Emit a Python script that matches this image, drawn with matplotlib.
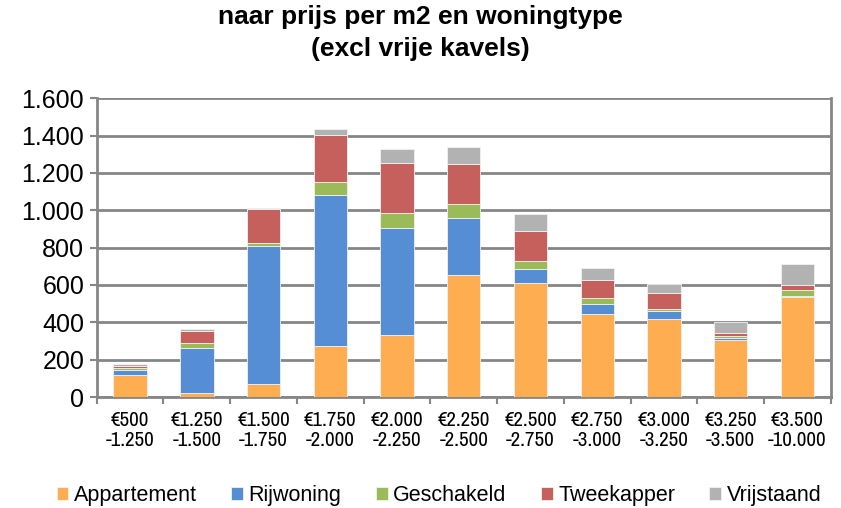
import matplotlib.pyplot as plt
from matplotlib import font_manager
import numpy as np

categories = ['€500\n-1.250', '€1.250\n-1.500', '€1.500\n-1.750', '€1.750\n-2.000',
              '€2.000\n-2.250', '€2.250\n-2.500', '€2.500\n-2.750', '€2.750\n-3.000',
              '€3.000\n-3.250', '€3.250\n-3.500', '€3.500\n-10.000']
appartement = [117, 23, 68, 273, 333, 654, 611, 445, 416, 303, 534]
rijwoning = [30, 242, 739, 810, 572, 305, 74, 55, 45, 11, 9]
geschakeld = [9, 25, 16, 68, 79, 77, 46, 31, 12, 12, 32]
tweekapper = [11, 63, 183, 253, 271, 210, 158, 97, 86, 18, 24]
vrijstaand = [9, 9, 4, 32, 75, 92, 90, 62, 47, 58, 115]

series = ['Appartement', 'Rijwoning', 'Geschakeld', 'Tweekapper', 'Vrijstaand']
colors = ['#FFAD51', '#558ED5', '#9BBB59', '#C6605C', '#B2B2B2']
yticks = [0, 200, 400, 600, 800, 1000, 1200, 1400, 1600]
ytick_labels = ['0', '200', '400', '600', '800', '1.000', '1.200', '1.400', '1.600']

plt.rcParams['font.family'] = ['Liberation Sans', 'DejaVu Sans']

# look for a narrow font for the category labels
narrow = None
for f in font_manager.fontManager.ttflist:
    if 'Narrow' in f.name:
        narrow = f.name
        break
if narrow is None:
    for f in font_manager.fontManager.ttflist:
        if 'Condensed' in f.name or f.stretch == 'condensed':
            narrow = f.name
            break
xlabel_family = [narrow, 'DejaVu Sans'] if narrow else ['Liberation Sans', 'DejaVu Sans']

fig = plt.figure(figsize=(8.41, 5.08), dpi=100)
ax = fig.add_axes([0.115, 0.2185, 0.873, 0.588])

x = np.arange(len(categories))
bottom = np.zeros(len(categories))
for name, vals, col in zip(series, [appartement, rijwoning, geschakeld, tweekapper, vrijstaand], colors):
    ax.bar(x, vals, width=0.5, bottom=bottom, color=col, label=name,
           edgecolor='#F2F2F2', linewidth=0.6, zorder=3)
    bottom += np.array(vals)

ax.set_xlim(-0.5, len(categories) - 0.5)
ax.set_ylim(0, 1600)
ax.set_yticks(yticks)
ax.set_yticklabels(ytick_labels, fontsize=18)
ax.yaxis.grid(True, color='#868686', linewidth=2, zorder=0)
ax.set_axisbelow(True)

ax.set_xticks(x)
ax.set_xticklabels(categories, fontsize=15, family=xlabel_family, linespacing=1.1)
ax.tick_params(axis='x', length=0, pad=10)
ax.set_xticks(np.arange(-0.5, len(categories)), minor=True)
ax.tick_params(axis='x', which='minor', length=5, width=1.5, color='#868686')
ax.tick_params(axis='y', length=5, width=1.5, color='#868686', pad=4)

for side in ['left', 'bottom', 'right']:
    ax.spines[side].set_color('#868686')
    ax.spines[side].set_linewidth(2)
ax.spines['top'].set_visible(False)

fig.suptitle('naar prijs per m2 en woningtype\n(excl vrije kavels)', fontsize=19,
             fontweight='bold', y=0.99, linespacing=1.4)

fig.legend(loc='lower center', bbox_to_anchor=(0.522, -0.034), ncol=5, frameon=False,
           fontsize=15.5, handlelength=0.55, handleheight=0.55, handletextpad=0.25,
           columnspacing=1.6)

fig.savefig('out.png', dpi=100)
